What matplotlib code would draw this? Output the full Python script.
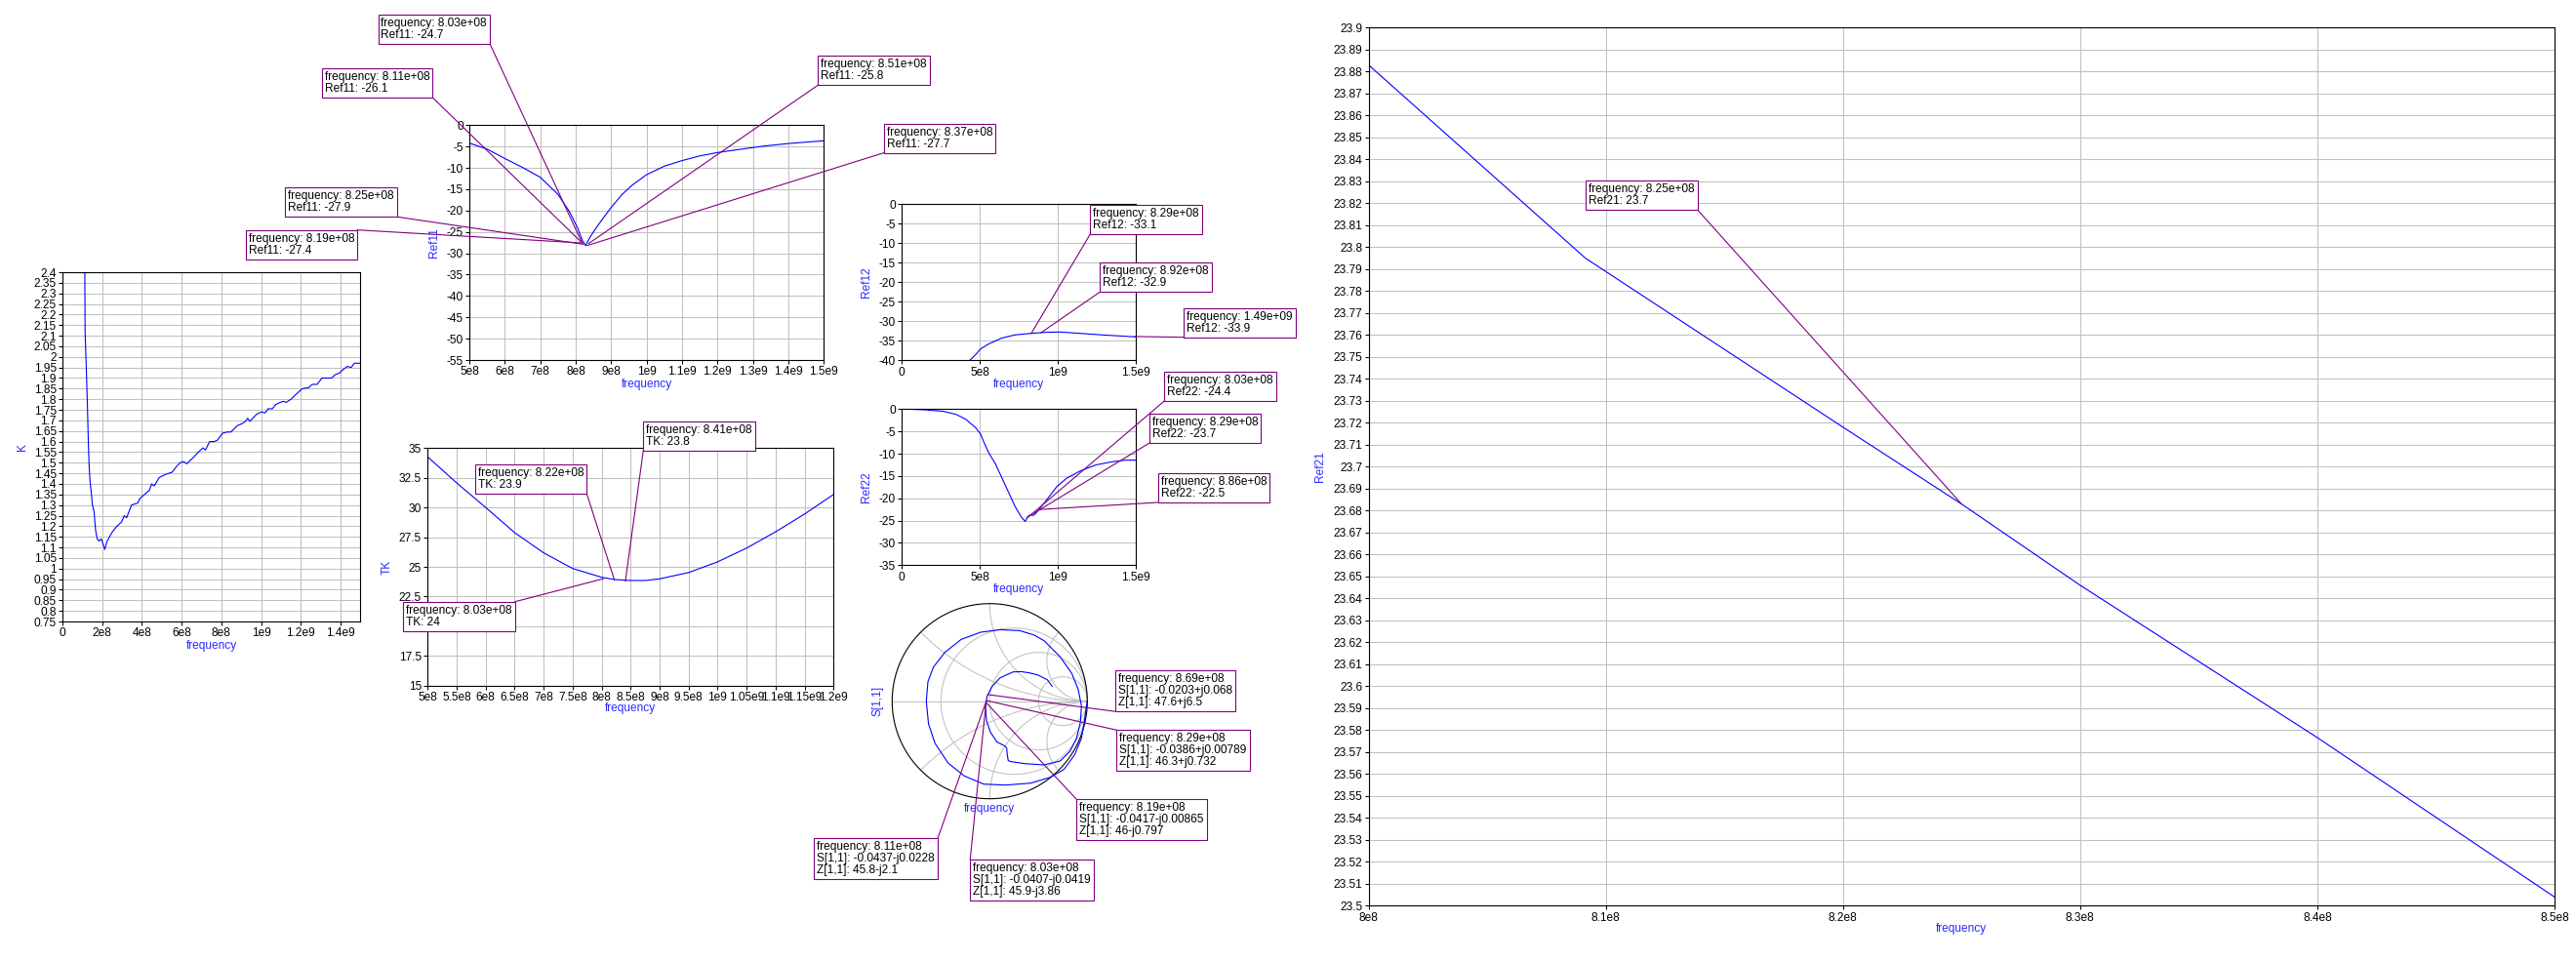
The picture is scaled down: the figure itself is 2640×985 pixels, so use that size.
import numpy as np
import matplotlib
matplotlib.use("Agg")
import matplotlib.pyplot as plt
from matplotlib.lines import Line2D

plt.rcParams['font.family'] = ['Liberation Sans', 'DejaVu Sans']
plt.rcParams['axes.unicode_minus'] = False

# ---------------- data ----------------
k_freq = [1.12e8, 1.14e8, 1.21e8, 1.26e8, 1.30e8, 1.34e8, 1.39e8, 1.46e8, 1.51e8, 1.59e8,
          1.67e8, 1.75e8, 1.84e8, 1.95e8, 2.05e8, 2.13e8, 2.25e8, 2.49e8, 2.74e8, 2.98e8,
          3.11e8, 3.23e8, 3.48e8, 3.80e8, 3.89e8, 4.13e8, 4.38e8, 4.49e8, 4.62e8, 4.87e8,
          5.20e8, 5.52e8, 5.77e8, 5.93e8, 6.10e8, 6.26e8, 6.59e8, 6.84e8, 7.08e8, 7.20e8,
          7.41e8, 7.62e8, 7.79e8, 8.07e8, 8.31e8, 8.48e8, 8.80e8, 9.05e8, 9.21e8, 9.33e8,
          9.43e8, 9.79e8, 1.003e9, 1.020e9, 1.036e9, 1.057e9, 1.074e9, 1.097e9, 1.113e9, 1.126e9,
          1.151e9, 1.167e9, 1.184e9, 1.208e9, 1.241e9, 1.257e9, 1.282e9, 1.307e9, 1.331e9, 1.356e9,
          1.372e9, 1.397e9, 1.413e9, 1.434e9, 1.454e9, 1.470e9, 1.5e9]
k_val = [2.55, 2.12, 1.92, 1.76, 1.61, 1.49, 1.41, 1.35, 1.30, 1.27,
         1.18, 1.14, 1.13, 1.14, 1.115, 1.09, 1.13, 1.17, 1.20, 1.22,
         1.25, 1.24, 1.30, 1.31, 1.33, 1.35, 1.37, 1.40, 1.39, 1.43,
         1.445, 1.455, 1.485, 1.50, 1.505, 1.495, 1.525, 1.55, 1.57, 1.56,
         1.60, 1.60, 1.605, 1.64, 1.645, 1.645, 1.675, 1.685, 1.695, 1.71,
         1.695, 1.73, 1.74, 1.735, 1.755, 1.755, 1.775, 1.785, 1.79, 1.785,
         1.80, 1.815, 1.83, 1.85, 1.855, 1.87, 1.87, 1.90, 1.90, 1.90,
         1.915, 1.925, 1.94, 1.955, 1.95, 1.97, 1.97]

r11_freq = [5.0e8, 5.5e8, 6.0e8, 6.5e8, 7.0e8, 7.5e8, 7.82e8, 8.05e8, 8.19e8, 8.28e8,
            8.42e8, 8.65e8, 8.97e8, 9.3e8, 9.6e8, 1.0e9, 1.05e9, 1.1e9, 1.15e9, 1.2e9,
            1.26e9, 1.33e9, 1.4e9, 1.5e9]
r11_val = [-4.2, -5.6, -7.8, -9.9, -12.2, -16.2, -20.2, -24.0, -27.0, -28.2,
           -26.0, -23.2, -19.6, -16.3, -14.0, -11.6, -9.6, -8.3, -7.2, -6.4,
           -5.7, -4.9, -4.3, -3.65]
r11_mk_freq = [8.03e8, 8.11e8, 8.51e8, 8.37e8, 8.25e8, 8.19e8]
r11_mk_val = [-24.7, -26.1, -25.8, -27.7, -27.9, -27.4]
r11_tgt_freq = [8.17e8, 8.17e8, 8.37e8, 8.32e8, 8.22e8, 8.20e8]
r11_tgt_val = [-27.4, -27.5, -27.7, -28.2, -27.9, -27.6]

r12_freq = [4.2e8, 4.35e8, 4.73e8, 5.04e8, 5.56e8, 6.4e8, 7.23e8, 8.27e8, 9.31e8, 1.015e9,
            1.14e9, 1.285e9, 1.39e9, 1.5e9]
r12_val = [-41.0, -40.0, -38.5, -37.1, -35.8, -34.3, -33.5, -33.1, -32.8, -32.75,
           -33.1, -33.5, -33.75, -34.0]
r12_mk_freq = [8.29e8, 8.92e8, 1.49e9]
r12_mk_val = [-33.1, -32.9, -33.9]

r22_freq = [0.35e8, 1.4e8, 2.65e8, 3.48e8, 4.1e8, 4.73e8, 5.04e8, 5.25e8, 5.56e8, 5.98e8,
            6.6e8, 7.23e8, 7.65e8, 7.9e8, 8.06e8, 8.23e8, 8.4e8, 8.52e8, 8.9e8, 9.31e8,
            9.94e8, 1.056e9, 1.14e9, 1.244e9, 1.35e9, 1.43e9, 1.5e9]
r22_val = [0.0, -0.15, -0.5, -1.2, -2.3, -4.2, -5.6, -7.4, -9.8, -12.2,
           -16.9, -21.7, -24.2, -25.2, -24.1, -23.7, -23.85, -23.6, -22.0, -20.2,
           -17.3, -15.5, -13.9, -12.5, -11.8, -11.45, -11.45]
r22_mk_freq = [8.03e8, 8.29e8, 8.86e8]
r22_mk_val = [-24.4, -23.7, -22.5]

tk_freq = [5.0e8, 5.5e8, 6.0e8, 6.5e8, 7.0e8, 7.5e8, 8.0e8, 8.22e8, 8.5e8, 8.76e8,
           9.0e8, 9.5e8, 1.0e9, 1.05e9, 1.1e9, 1.15e9, 1.2e9]
tk_val = [34.26, 32.07, 30.0, 27.88, 26.18, 24.86, 24.12, 23.93, 23.85, 23.85,
          23.99, 24.52, 25.42, 26.58, 27.95, 29.45, 31.1]
tk_mk_freq = [8.41e8, 8.22e8, 8.03e8]
tk_mk_val = [23.8, 23.9, 24]

r21_freq = [8.0e8, 8.0914e8, 8.2e8, 8.25e8, 8.3e8, 8.4e8, 8.5e8]
r21_val = [23.883, 23.795, 23.718, 23.683, 23.646, 23.5766, 23.504]
r21_mk_freq = [8.25e8]
r21_mk_val = [23.683]

s11_re = [0.999, 0.99, 0.97, 0.94, 0.87, 0.76, 0.62, 0.42, 0.16, -0.06,
          -0.26, -0.427, -0.56, -0.627, -0.65, -0.633, -0.577, -0.46, -0.293, -0.093,
          0.107, 0.307, 0.45, 0.557, 0.723, 0.84, 0.907, 0.94, 0.93, 0.89,
          0.823, 0.723, 0.557, 0.357, 0.223, 0.19, 0.18, 0.174, 0.157, 0.073,
          0.007, -0.033, -0.043, -0.027, 0.023, 0.107, 0.24, 0.323, 0.407, 0.49,
          0.59, 0.64]
s11_im = [-0.01, -0.05, -0.21, -0.38, -0.55, -0.70, -0.78, -0.84, -0.86, -0.85,
          -0.767, -0.633, -0.433, -0.233, 0.0, 0.2, 0.35, 0.5, 0.633, 0.707,
          0.733, 0.723, 0.68, 0.62, 0.453, 0.287, 0.12, -0.047, -0.213, -0.38,
          -0.513, -0.613, -0.653, -0.64, -0.62, -0.61, -0.55, -0.48, -0.46, -0.417,
          -0.317, -0.2, -0.067, 0.05, 0.15, 0.24, 0.30, 0.303, 0.29, 0.27,
          0.22, 0.153]
sm_mk_freq = [8.69e8, 8.29e8, 8.19e8, 8.11e8, 8.03e8]
sm_s_re = [-0.0203, -0.0386, -0.0417, -0.0437, -0.0407]
sm_s_im = [0.068, 0.00789, -0.00865, -0.0228, -0.0419]
sm_z_re = [47.6, 46.3, 46, 45.8, 45.9]
sm_z_im = [6.5, 0.732, -0.797, -2.1, -3.86]
smith_r = [1 / 3, 1.0, 3.0]
smith_x = [0.4142, 1.0, 2.4142]

# tick labels
k_xt = ["0", "2e8", "4e8", "6e8", "8e8", "1e9", "1.2e9", "1.4e9"]
k_yt = ["0.75", "0.8", "0.85", "0.9", "0.95", "1", "1.05", "1.1", "1.15", "1.2", "1.25",
        "1.3", "1.35", "1.4", "1.45", "1.5", "1.55", "1.6", "1.65", "1.7", "1.75", "1.8",
        "1.85", "1.9", "1.95", "2", "2.05", "2.1", "2.15", "2.2", "2.25", "2.3", "2.35", "2.4"]
r11_xt = ["5e8", "6e8", "7e8", "8e8", "9e8", "1e9", "1.1e9", "1.2e9", "1.3e9", "1.4e9", "1.5e9"]
r11_yt = ["0", "-5", "-10", "-15", "-20", "-25", "-30", "-35", "-40", "-45", "-50", "-55"]
r12_xt = ["0", "5e8", "1e9", "1.5e9"]
r12_yt = ["0", "-5", "-10", "-15", "-20", "-25", "-30", "-35", "-40"]
r22_yt = ["0", "-5", "-10", "-15", "-20", "-25", "-30", "-35"]
tk_xt = ["5e8", "5.5e8", "6e8", "6.5e8", "7e8", "7.5e8", "8e8", "8.5e8", "9e8", "9.5e8",
         "1e9", "1.05e9", "1.1e9", "1.15e9", "1.2e9"]
tk_yt = ["15", "17.5", "20", "22.5", "25", "27.5", "30", "32.5", "35"]
r21_xt = ["8e8", "8.1e8", "8.2e8", "8.3e8", "8.4e8", "8.5e8"]
r21_yt = ["23.5", "23.51", "23.52", "23.53", "23.54", "23.55", "23.56", "23.57", "23.58", "23.59",
          "23.6", "23.61", "23.62", "23.63", "23.64", "23.65", "23.66", "23.67", "23.68", "23.69",
          "23.7", "23.71", "23.72", "23.73", "23.74", "23.75", "23.76", "23.77", "23.78", "23.79",
          "23.8", "23.81", "23.82", "23.83", "23.84", "23.85", "23.86", "23.87", "23.88", "23.89", "23.9"]

# ---------------- style ----------------
W, H = 2640, 985
FS = 8.6
BLUE = '#0000ff'
LBLUE = '#2a2aff'
PURPLE = '#800080'
GRID = '#c0c0c0'
PADF = 0.25
PADPX = PADF * FS * 100 / 72

fig = plt.figure(figsize=(W / 100, H / 100), dpi=100)
fig.patch.set_facecolor('white')


def px_ax(box):
    l, t, r, b = box
    return fig.add_axes([l / W, 1 - b / H, (r - l) / W, (b - t) / H])


def setup(ax, box, xt, yt, xlim, ylim, xlab, ylab, ylab_cx, xlab_cy):
    l, t, r, b = box
    ax.set_xlim(*xlim)
    ax.set_ylim(*ylim)
    ax.set_xticks([float(s) for s in xt], xt)
    ax.set_yticks([float(s) for s in yt], yt)
    ax.tick_params(direction='out', length=3, width=0.75, pad=1.5, labelsize=FS)
    ax.grid(True, color=GRID, lw=0.75)
    ax.set_axisbelow(True)
    for s in ax.spines.values():
        s.set_linewidth(0.8)
    ax.set_xlabel(xlab, color=LBLUE, fontsize=FS)
    ax.set_ylabel(ylab, color=LBLUE, fontsize=FS)
    ax.yaxis.set_label_coords((ylab_cx + 6 - l) / (r - l), 0.5)
    ax.xaxis.set_label_coords(0.5, (b - (xlab_cy - 7)) / (b - t))


notes = []


def note(ax, left, top, lines, target):
    t = fig.text((left + PADPX) / W, 1 - (top + PADPX) / H, '\n'.join(lines),
                 ha='left', va='top', fontsize=FS, linespacing=1.0, color='black',
                 bbox=dict(boxstyle=f'square,pad={PADF}', fc='white', ec=PURPLE, lw=0.8),
                 zorder=5)
    notes.append((t, ax, target))


def fq(f):
    return f"frequency: {f:.2e}"


# ---- K ----
K_BOX = (64, 279, 369.3, 637)
axk = px_ax(K_BOX)
setup(axk, K_BOX, k_xt, k_yt, (0, 1.5e9), (0.75, 2.4), 'frequency', 'K', 23, 663)
axk.plot(k_freq, k_val, color=BLUE, lw=0.8)

# ---- Ref11 ----
R11_BOX = (481, 128.3, 844.3, 369)
ax11 = px_ax(R11_BOX)
setup(ax11, R11_BOX, r11_xt, r11_yt, (5e8, 1.5e9), (-55, 0), 'frequency', 'Ref11', 445, 395)
ax11.plot(r11_freq, r11_val, color=BLUE, lw=0.8)
r11_boxes = [(387.5, 15), (329.6, 70), (838.3, 57.3), (905.7, 126.7), (292.4, 192.3), (251.6, 235.7)]
for (bx, by), f, v, tf, tv in zip(r11_boxes, r11_mk_freq, r11_mk_val, r11_tgt_freq, r11_tgt_val):
    note(ax11, bx, by, [fq(f), f"Ref11: {v:.3g}"], (tf, tv))

# ---- Ref12 ----
R12_BOX = (924.3, 209.3, 1164.3, 369.3)
ax12 = px_ax(R12_BOX)
setup(ax12, R12_BOX, r12_xt, r12_yt, (0, 1.5e9), (-40, 0), 'frequency', 'Ref12', 888.3, 395)
ax12.plot(r12_freq, r12_val, color=BLUE, lw=0.8)
r12_boxes = [(1117.3, 210), (1127.3, 269.3), (1213.3, 315.7)]
for (bx, by), f, v in zip(r12_boxes, r12_mk_freq, r12_mk_val):
    note(ax12, bx, by, [fq(f), f"Ref12: {v:.3g}"], (f, v))

# ---- Ref22 ----
R22_BOX = (924.3, 419.3, 1164.3, 579.3)
ax22 = px_ax(R22_BOX)
setup(ax22, R22_BOX, r12_xt, r22_yt, (0, 1.5e9), (-35, 0), 'frequency', 'Ref22', 888.3, 604.5)
ax22.plot(r22_freq, r22_val, color=BLUE, lw=0.8)
r22_boxes = [(1193.3, 381), (1177.7, 424.3), (1186.7, 485)]
for (bx, by), f, v in zip(r22_boxes, r22_mk_freq, r22_mk_val):
    note(ax22, bx, by, [fq(f), f"Ref22: {v:.3g}"], (f, v))

# ---- TK ----
TK_BOX = (438.3, 459.3, 854.3, 702.7)
axtk = px_ax(TK_BOX)
setup(axtk, TK_BOX, tk_xt, tk_yt, (5e8, 1.2e9), (15, 35), 'frequency', 'TK', 396.7, 726.7)
axtk.plot(tk_freq, tk_val, color=BLUE, lw=0.8)
tk_boxes = [(659.3, 431.7), (486.7, 476), (413.3, 616.7)]
for (bx, by), f, v in zip(tk_boxes, tk_mk_freq, tk_mk_val):
    note(axtk, bx, by, [fq(f), f"TK: {v:.3g}"], (f, v))

# ---- Ref21 ----
R21_BOX = (1402.6, 28.3, 2618, 928.4)
ax21 = px_ax(R21_BOX)
setup(ax21, R21_BOX, r21_xt, r21_yt, (8e8, 8.5e8), (23.5, 23.9), 'frequency', 'Ref21', 1353, 953.5)
ax21.plot(r21_freq, r21_val, color=BLUE, lw=0.8)
for f, v in zip(r21_mk_freq, r21_mk_val):
    note(ax21, 1625, 185, [fq(f), f"Ref21: {v:.3g}"], (f, v))

# ---- Smith chart ----
CX, CY, R = 1014.3, 718.7, 100.0
LIM = 1.03
sm = px_ax((CX - R * LIM, CY - R * LIM, CX + R * LIM, CY + R * LIM))
sm.set_xlim(-LIM, LIM)
sm.set_ylim(-LIM, LIM)
sm.set_aspect('equal')
sm.axis('off')
th = np.linspace(0, 2 * np.pi, 2001)
sm.plot([-1, 1], [0, 0], color=GRID, lw=0.75)
for r in smith_r:
    c, rad = r / (1 + r), 1 / (1 + r)
    sm.plot(c + rad * np.cos(th), rad * np.sin(th), color=GRID, lw=0.75)
for x in smith_x:
    for sgn in (1, -1):
        px = 1 + np.cos(th) / x
        py = sgn / x + np.sin(th) / x
        inside = px ** 2 + py ** 2 <= 1.0005
        px = np.where(inside, px, np.nan)
        py = np.where(inside, py, np.nan)
        sm.plot(px, py, color=GRID, lw=0.75)
sm.plot(np.cos(th), np.sin(th), color='black', lw=0.8)
sm.plot(s11_re, s11_im, color=BLUE, lw=0.8)
fig.text(900 / W, 1 - 718.3 / H, 'S[1,1]', rotation=90, color=LBLUE, fontsize=FS,
         ha='center', va='center')
fig.text(1014.3 / W, 1 - 829.3 / H, 'frequency', color=LBLUE, fontsize=FS,
         ha='center', va='center')


def cpx(a, b):
    return f"{a:.3g}{'+' if b >= 0 else '-'}j{abs(b):.3g}"


sm_boxes = [(1143.3, 687.3), (1144.3, 748.3), (1103.3, 819.3), (834.3, 859.3), (994.3, 880.7)]
for (bx, by), f, sr, si, zr, zi in zip(sm_boxes, sm_mk_freq, sm_s_re, sm_s_im, sm_z_re, sm_z_im):
    note(sm, bx, by, [fq(f), f"S[1,1]: {cpx(sr, si)}", f"Z[1,1]: {cpx(zr, zi)}"], (sr, si))

# ---- connector lines from boxes to marker points ----
fig.canvas.draw()
rend = fig.canvas.get_renderer()
inv = fig.transFigure.inverted()
for t, ax, (tx, ty) in notes:
    e = t.get_window_extent(rend)
    corners = [(e.x0 - PADPX, e.y0 - PADPX), (e.x1 + PADPX, e.y0 - PADPX),
               (e.x0 - PADPX, e.y1 + PADPX), (e.x1 + PADPX, e.y1 + PADPX)]
    p = ax.transData.transform((tx, ty))
    c = min(corners, key=lambda q: (q[0] - p[0]) ** 2 + (q[1] - p[1]) ** 2)
    a, b = inv.transform([c, p])
    fig.add_artist(Line2D([a[0], b[0]], [a[1], b[1]], transform=fig.transFigure,
                          color=PURPLE, lw=0.8, zorder=4))

fig.savefig('out.png', dpi=100, facecolor='white')
